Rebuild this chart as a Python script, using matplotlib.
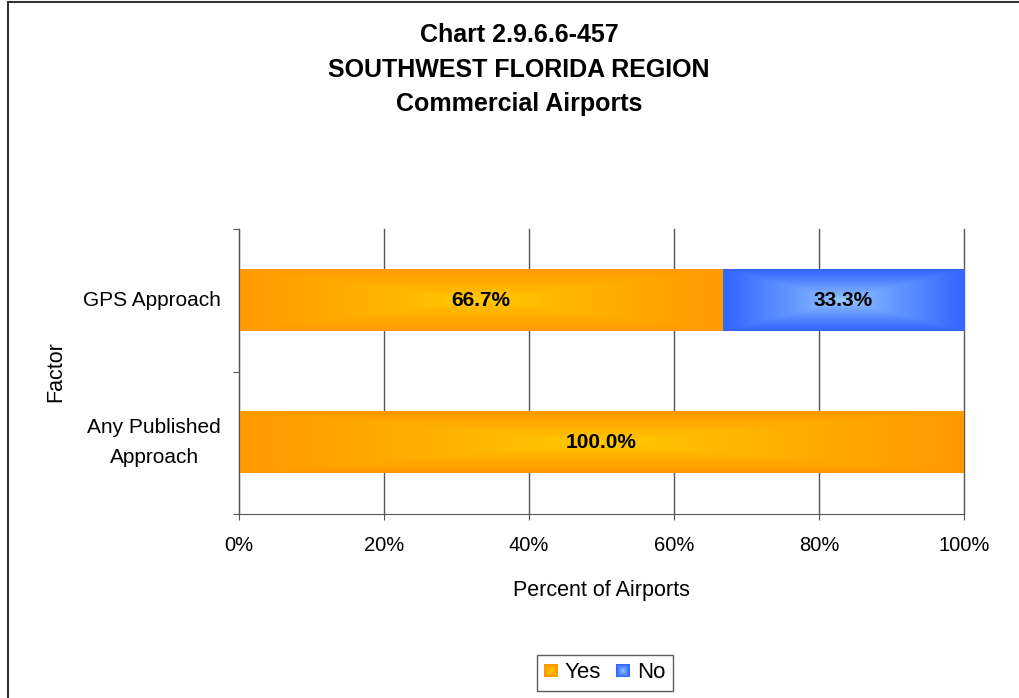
import numpy as np
import matplotlib.pyplot as plt
from matplotlib.patches import Rectangle
from matplotlib.legend_handler import HandlerBase
from matplotlib.lines import Line2D

plt.rcParams['font.family'] = ['Liberation Sans', 'DejaVu Sans']

factors = ['Any Published\nApproach', 'GPS Approach']
yes_pct = [100.0, 66.7]
no_pct = [0.0, 33.3]
series_names = ['Yes', 'No']
xticks = [0, 20, 40, 60, 80, 100]

# edge colour, centre colour for the "from centre" gradient fill
orange = ('#ff9900', '#ffcc00')
blue = ('#3366ff', '#99ccff')


def grad_img(edge, centre, nx=200, ny=60):
    u = np.linspace(-1, 1, nx)
    v = np.linspace(-1, 1, ny)
    U, V = np.meshgrid(u, v)
    t = np.maximum(np.abs(U), np.abs(V))
    t = np.clip(t, 0, 1) ** 0.8
    e = np.array(plt.matplotlib.colors.to_rgb(edge))
    c = np.array(plt.matplotlib.colors.to_rgb(centre))
    return c[None, None, :] * (1 - t[..., None]) + e[None, None, :] * t[..., None]


def grad_bar(ax, left, width, y, h, cols):
    if width <= 0:
        return
    img = grad_img(*cols)
    ax.imshow(img, extent=[left, left + width, y - h / 2, y + h / 2],
              aspect='auto', interpolation='bilinear', zorder=2)


class GradHandler(HandlerBase):
    def __init__(self, cols):
        super().__init__()
        self.cols = cols

    def create_artists(self, legend, orig_handle, xdescent, ydescent,
                       width, height, fontsize, trans):
        s = height
        x0 = width / 2 - s / 2 - xdescent
        y0 = height / 2 - s / 2 - ydescent
        img = grad_img(*self.cols, nx=20, ny=20)
        out = []
        # nested squares, edge colour outside to centre colour inside
        for k in range(10):
            f = k / 10
            out.append(Rectangle((x0 + s * f / 2, y0 + s * f / 2), s * (1 - f), s * (1 - f),
                                 facecolor=img[10, k], edgecolor='none', transform=trans))
        return out


fig = plt.figure(figsize=(10.19, 6.98), dpi=100)
ax = fig.add_axes([239 / 1019, 1 - 514 / 698, 725 / 1019, 285 / 698])

ypos = np.arange(len(factors))
h = 0.43
for i, y in enumerate(ypos):
    grad_bar(ax, 0, yes_pct[i], y, h, orange)
    grad_bar(ax, yes_pct[i], no_pct[i], y, h, blue)
    if yes_pct[i] > 0:
        ax.text(yes_pct[i] / 2, y, f'{yes_pct[i]:.1f}%', ha='center', va='center',
                fontsize=15, fontweight='bold', zorder=3)
    if no_pct[i] > 0:
        ax.text(yes_pct[i] + no_pct[i] / 2, y, f'{no_pct[i]:.1f}%', ha='center',
                va='center', fontsize=15, fontweight='bold', zorder=3)

ax.set_xlim(0, 100)
ax.set_ylim(-0.5, len(factors) - 0.5)
ax.set_xticks(xticks)
ax.set_xticklabels([f'{t}%' for t in xticks], fontsize=14.5)
ax.xaxis.grid(True, color='#555555', linewidth=1, zorder=1)
for gl in ax.get_xgridlines():
    gl.set_clip_on(False)
ax.set_axisbelow(True)
ax.tick_params(axis='x', length=4, pad=12, color='#555555')

ax.set_yticks(np.arange(-0.5, len(factors), 1.0))
ax.set_yticklabels([])
ax.set_yticks(ypos, minor=True)
ax.set_yticklabels(factors, minor=True, fontsize=15, va='center')
for t in ax.get_yticklabels(minor=True):
    t.set_linespacing(1.75)
    t.set_multialignment('center')
ax.tick_params(axis='y', which='major', length=4, color='#555555')
ax.tick_params(axis='y', which='minor', length=0, pad=13)

for s in ['top', 'right']:
    ax.spines[s].set_visible(False)
for s in ['left', 'bottom']:
    ax.spines[s].set_color('#555555')

ax.set_xlabel('Percent of Airports', fontsize=15.5, labelpad=18)
ax.set_ylabel('Factor', fontsize=15.5, labelpad=12)

title_lines = ['Chart 2.9.6.6-457', 'SOUTHWEST FLORIDA REGION', 'Commercial Airports']
for k, yy in enumerate([35, 70, 104]):
    fig.text(519 / 1019, 1 - yy / 698, title_lines[k], ha='center', va='center',
             fontsize=18, fontweight='bold')

leg_handles = [Rectangle((0, 0), 1, 1), Rectangle((0, 1), 1, 1)]
leg = fig.legend(leg_handles, series_names, loc='center',
                 bbox_to_anchor=(605 / 1019, 1 - 673 / 698), ncol=2,
                 fontsize=16, frameon=True, fancybox=False,
                 handlelength=0.55, handleheight=0.55, handletextpad=0.35,
                 columnspacing=0.7, borderpad=0.35,
                 handler_map={leg_handles[0]: GradHandler(orange),
                              leg_handles[1]: GradHandler(blue)})
leg.get_frame().set_edgecolor('#333333')
leg.get_frame().set_linewidth(1.0)

# outer chart border (left and top edges)
fig.add_artist(Line2D([7.5 / 1019, 7.5 / 1019], [0, 1 - 1.5 / 698],
                      transform=fig.transFigure, color='#333333', linewidth=1.5))
fig.add_artist(Line2D([7.5 / 1019, 1], [1 - 1.5 / 698, 1 - 1.5 / 698],
                      transform=fig.transFigure, color='#333333', linewidth=1.5))

fig.savefig('out.png', dpi=100)
